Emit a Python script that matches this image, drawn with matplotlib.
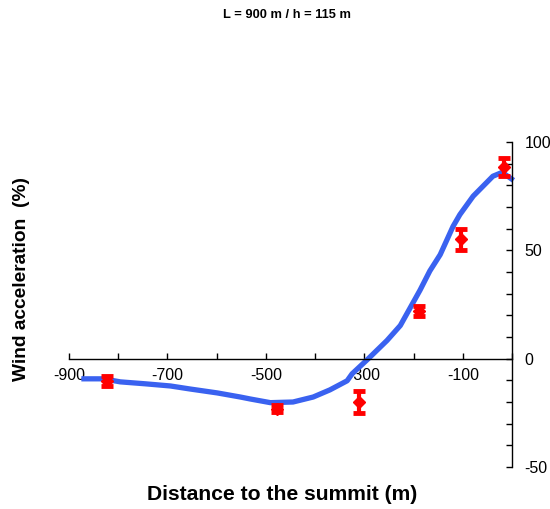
import matplotlib
matplotlib.use("Agg")
import matplotlib.pyplot as plt

plt.rcParams['font.family'] = ['Liberation Sans', 'DejaVu Sans']

# Simulated profile (blue line)
line_x = [-875, -830, -796, -745, -694, -654, -599, -552, -532, -491, -445, -404,
          -370, -335, -325, -292, -254, -227, -187, -167, -146, -120, -106, -79,
          -39, -20, 3]
line_y = [-9.3, -9.3, -10.7, -11.6, -12.6, -14.0, -15.8, -17.7, -18.6, -20.3, -20.0,
          -17.7, -14.4, -10.2, -7.0, 0.0, 8.4, 15.3, 31.6, 40.5, 48.0, 61.0, 66.5,
          75.0, 84.2, 86.0, 82.3]

# Measurements (red points with error bars)
meas_x = [-822, -477, -311, -190, -104, -17]
meas_y = [-10.2, -23.2, -20.0, 21.9, 55.1, 88.4]
meas_err = [2.3, 1.6, 5.1, 2.3, 4.9, 4.2]

x_ticks = [-900, -800, -700, -600, -500, -400, -300, -200, -100, 0]
x_labels = ['-900', '', '-700', '', '-500', '', '-300', '', '-100', '']
y_ticks = list(range(-50, 101, 10))
y_labels = [str(v) if v % 50 == 0 else '' for v in y_ticks]

fig = plt.figure(figsize=(5.5, 5.09), dpi=100)
ax = fig.add_axes([0.1255, 0.0825, 0.8055, 0.6385])

ax.plot(line_x, line_y, color='#3a62f0', lw=3.8, solid_capstyle='butt',
        clip_on=False, zorder=2)
ax.errorbar(meas_x, meas_y, yerr=meas_err, fmt='D', color='#ff0000',
            markersize=6, elinewidth=3, capsize=4.5, capthick=3.5,
            clip_on=False, zorder=3)

ax.set_xlim(-900, 0)
ax.set_ylim(-50, 100)

for s in ['left', 'top']:
    ax.spines[s].set_visible(False)
ax.spines['bottom'].set_position(('data', 0))
ax.spines['bottom'].set_linewidth(1.0)
ax.spines['right'].set_linewidth(1.0)
ax.yaxis.tick_right()

ax.set_xticks(x_ticks)
ax.set_xticklabels(x_labels)
ax.set_yticks(y_ticks)
ax.set_yticklabels(y_labels)
ax.tick_params(axis='x', direction='in', length=4, width=1, pad=7, labelsize=11.5)
ax.tick_params(axis='y', direction='in', length=4, width=1, pad=9, labelsize=11.5)
for lbl in ax.get_yticklabels():
    lbl.set_horizontalalignment('left')

fig.text(0.5218, 0.9705, 'L = 900 m / h = 115 m', ha='center', va='center',
         fontsize=9.3, fontweight='bold')
fig.text(282 / 550, 1 - 494 / 509, 'Distance to the summit (m)', ha='center',
         va='center', fontsize=15.2, fontweight='bold')
fig.text(22 / 550, 1 - 279 / 509, 'Wind acceleration  (%)', ha='center',
         va='center', rotation=90, fontsize=13.8, fontweight='bold')

fig.savefig('out.png', dpi=100)
